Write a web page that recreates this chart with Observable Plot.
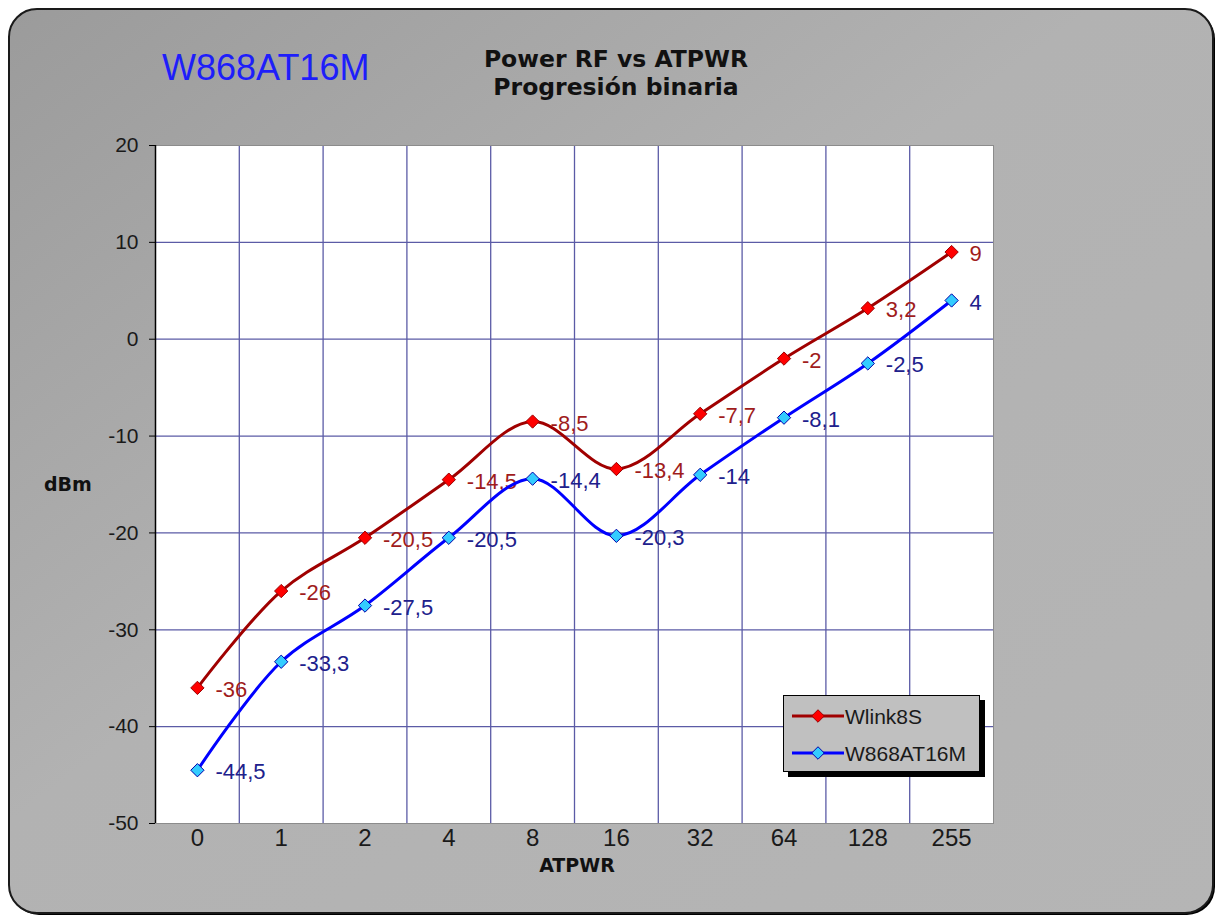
<!DOCTYPE html>
<html>
<head>
<meta charset="utf-8">
<script src="https://cdn.jsdelivr.net/npm/d3@7"></script>
<script src="https://cdn.jsdelivr.net/npm/@observablehq/plot@0.6"></script>
<style>
  body { margin: 0; background: #fff; }
  #wrap { position: relative; width: 1221px; height: 918px; overflow: hidden; }
  #bg, #chart, #legend { position: absolute; }
  #bg { left: 0; top: 0; }
  #chart { left: 0; top: 0; }
  #legend { left: 783px; top: 695px; width: 195px; height: 75px; background: #c0c0c0;
            border: 1px solid #000; box-shadow: 5px 5px 0 #000; }
</style>
</head>
<body>
<div id="wrap">
  <svg id="bg" width="1221" height="918">
    <defs>
      <linearGradient id="g" x1="0" y1="0" x2="1" y2="1">
        <stop offset="0" stop-color="#9b9b9b"/>
        <stop offset="0.45" stop-color="#b2b2b2"/>
        <stop offset="1" stop-color="#b5b5b5"/>
      </linearGradient>
    </defs>
    <rect x="11" y="11" width="1204" height="904" rx="28" fill="#000"/>
    <rect x="9" y="9" width="1204" height="904" rx="28" fill="url(#g)" stroke="#1a1a1a" stroke-width="2"/>
    <text x="162" y="80" font-family="Liberation Sans, Arial, sans-serif" font-size="36" fill="#1e1efa">W868AT16M</text>
    <text x="616" y="67" text-anchor="middle" font-family="DejaVu Sans, sans-serif" font-weight="bold" font-size="23.5" fill="#111">Power RF vs ATPWR</text>
    <text x="616" y="95" text-anchor="middle" font-family="DejaVu Sans, sans-serif" font-weight="bold" font-size="23.5" fill="#111">Progresión binaria</text>
    <text x="44" y="491" font-family="DejaVu Sans, sans-serif" font-weight="bold" font-size="19" fill="#111">dBm</text>
    <text x="577" y="872" text-anchor="middle" font-family="DejaVu Sans, sans-serif" font-weight="bold" font-size="19" fill="#111">ATPWR</text>
  </svg>
  <div id="chart"></div>
  <div id="legend"></div>
</div>
<script>
// ---- data ----
const atpwr = ["0", "1", "2", "4", "8", "16", "32", "64", "128", "255"];
const wlink8s = [-36, -26, -20.5, -14.5, -8.5, -13.4, -7.7, -2, 3.2, 9];
const w868at16m = [-44.5, -33.3, -27.5, -20.5, -14.4, -20.3, -14, -8.1, -2.5, 4];
const seriesNames = ["Wlink8S", "W868AT16M"];
const yTicks = [-50, -40, -30, -20, -10, 0, 10, 20];

// ---- styles per series ----
const styles = [
  {line: "#a00000", fill: "#ff0000", mstroke: "#990000", label: "#a01c1c"},
  {line: "#0000ff", fill: "#33ccff", mstroke: "#0000aa", label: "#20208c"}
];
const seriesValues = [wlink8s, w868at16m];

const fmt = v => String(v).replace(".", ",");
const idx = d3.range(atpwr.length);

const marks = [
  Plot.frame({fill: "white"}),
  Plot.gridY(yTicks.slice(1, -1), {stroke: "#5b5ba6", strokeOpacity: 1, strokeWidth: 1.3}),
  Plot.gridX(idx.slice(0, -1).map(i => i + 0.5), {stroke: "#5b5ba6", strokeOpacity: 1, strokeWidth: 1.3}),
  Plot.frame({stroke: "#8c8c8c"}),
  Plot.ruleX([-0.5], {stroke: "#000", strokeWidth: 1.5}),
  Plot.axisY({ticks: yTicks, tickFormat: d => String(d), tickSize: 6, tickPadding: 11, fontSize: 21, label: null, fill: "#1a1a1a", stroke: "#000"}),
  Plot.axisX({ticks: idx, tickFormat: i => atpwr[i], tickSize: 0, tickPadding: 5, fontSize: 24, label: null, fill: "#1a1a1a"})
];

seriesNames.forEach((name, s) => {
  const rows = atpwr.map((a, i) => ({i, atpwr: a, v: seriesValues[s][i], series: name}));
  const st = styles[s];
  marks.push(
    Plot.line(rows, {x: "i", y: "v", stroke: st.line, strokeWidth: 3, curve: "catmull-rom"}),
    Plot.dot(rows, {x: "i", y: "v", symbol: "diamond2", r: 6, fill: st.fill, stroke: st.mstroke, strokeWidth: 1}),
    Plot.text(rows, {x: "i", y: "v", text: d => fmt(d.v), dx: 18, dy: 2, textAnchor: "start",
                     fill: st.label, fontSize: 22, fontFamily: "Liberation Sans, Arial, sans-serif"})
  );
});

const chart = Plot.plot({
  width: 1221,
  height: 918,
  marginLeft: 155,
  marginRight: 228,
  marginTop: 145,
  marginBottom: 95,
  style: {background: "none", fontFamily: "Liberation Sans, Arial, sans-serif", overflow: "visible"},
  x: {domain: [-0.5, atpwr.length - 0.5]},
  y: {domain: [-50, 20]},
  marks
});
document.getElementById("chart").appendChild(chart);

// ---- legend ----
const lg = d3.select("#legend").append("svg").attr("width", 195).attr("height", 75);
seriesNames.forEach((name, s) => {
  const st = styles[s];
  const cy = s === 0 ? 20 : 57;
  lg.append("line").attr("x1", 8).attr("x2", 60).attr("y1", cy).attr("y2", cy)
    .attr("stroke", st.line).attr("stroke-width", 3);
  lg.append("path").attr("d", d3.symbol(d3.symbolDiamond2, 100)())
    .attr("transform", `translate(34,${cy})`).attr("fill", st.fill).attr("stroke", st.mstroke);
  lg.append("text").attr("x", 61).attr("y", cy).attr("dy", "0.36em")
    .attr("font-family", "Liberation Sans, Arial, sans-serif").attr("font-size", 21)
    .attr("fill", "#1a1a1a").text(name);
});
</script>
</body>
</html>
